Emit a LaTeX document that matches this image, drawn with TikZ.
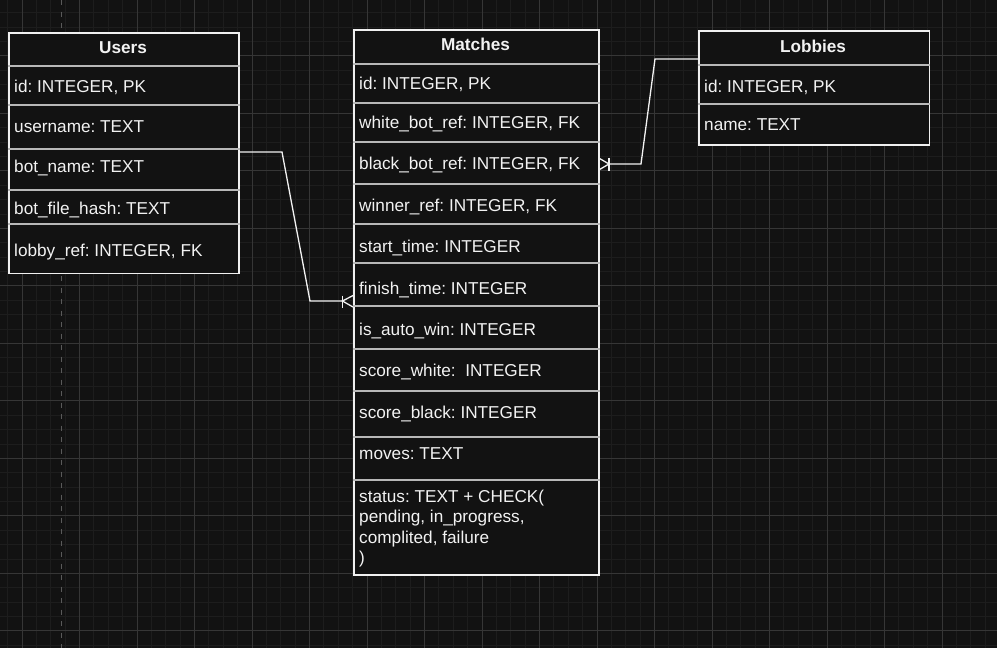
\documentclass[tikz,border=0pt]{standalone}
\usepackage{fontspec}
\setmainfont{Liberation Sans}
\frenchspacing
\definecolor{canvas}{HTML}{121212}
\definecolor{minorline}{HTML}{1D1D1D}
\definecolor{majorline}{HTML}{363636}
\definecolor{pagebreak}{HTML}{5A5A5A}
\definecolor{boxline}{HTML}{F0F0F0}
\definecolor{rowline}{HTML}{B8B8B8}
\definecolor{ink}{HTML}{F2F2F2}

\begin{document}
\begin{tikzpicture}[x=1pt, y=-1pt,
    table/.style = {draw=boxline, line width=1.6pt, fill=canvas, rectangle, anchor=north west, inner sep=0pt},
    head/.style = {text=ink, inner sep=0pt, text height=12.3pt, text depth=0pt, font=\fontsize{17.2}{20.4}\selectfont\bfseries},
    field/.style = {text=ink, anchor=west, inner sep=0pt, text height=12.3pt, text depth=0pt, font=\fontsize{17.2}{20.4}\selectfont},
    note/.style = {text=ink, anchor=base west, inner sep=0pt, align=left, font=\fontsize{17.2}{20.4}\selectfont},
    row/.style = {draw=rowline, line width=1.3pt},
    rel/.style = {draw=ink, line width=1.3pt}
    ]
% canvas and grid
\fill[canvas] (0,0) rectangle (997,648);
\useasboundingbox (0,0) rectangle (997,648);
\begin{scope}
\clip (0,0) rectangle (997,648);
\foreach \k in {0,...,69} \draw[minorline, line width=0.8pt] (7.625+14.375*\k,0) -- (7.625+14.375*\k,648);
\foreach \k in {0,...,44} \draw[minorline, line width=0.8pt] (0,12.675+14.375*\k) -- (997,12.675+14.375*\k);
\foreach \k in {0,...,17} \draw[majorline, line width=0.9pt] (22+57.5*\k,0) -- (22+57.5*\k,648);
\foreach \k in {-1,...,10} \draw[majorline, line width=0.9pt] (0,55.8+57.5*\k) -- (997,55.8+57.5*\k);
\draw[pagebreak, line width=1pt, dash pattern=on 5pt off 6.5pt] (61,0) -- (61,648);
\end{scope}

% Users
\node[table, minimum width=230pt, minimum height=240.5pt] (users) at (8,32) {};
\draw[row] (users.west |- 0,66) -- (users.east |- 0,66);
\draw[row] (users.west |- 0,105) -- (users.east |- 0,105);
\draw[row] (users.west |- 0,149) -- (users.east |- 0,149);
\draw[row] (users.west |- 0,190) -- (users.east |- 0,190);
\draw[row] (users.west |- 0,224) -- (users.east |- 0,224);
\node[head] (usershead) at (123,47.3) {Users};
\node[field] (u1) at (14,86.5) {id: INTEGER, PK};
\node[field] (u2) at (14,126) {username: TEXT};
\node[field] (u3) at (14,166.7) {bot\_name: TEXT};
\node[field] (u4) at (14,208) {bot\_file\_hash: TEXT};
\node[field] (u5) at (14,250) {lobby\_ref: INTEGER, FK};

% Matches
\node[table, minimum width=245pt, minimum height=545pt] (matches) at (353,29.3) {};
\draw[row] (matches.west |- 0,64) -- (matches.east |- 0,64);
\draw[row] (matches.west |- 0,103) -- (matches.east |- 0,103);
\draw[row] (matches.west |- 0,142) -- (matches.east |- 0,142);
\draw[row] (matches.west |- 0,184) -- (matches.east |- 0,184);
\draw[row] (matches.west |- 0,224) -- (matches.east |- 0,224);
\draw[row] (matches.west |- 0,263) -- (matches.east |- 0,263);
\draw[row] (matches.west |- 0,306) -- (matches.east |- 0,306);
\draw[row] (matches.west |- 0,349) -- (matches.east |- 0,349);
\draw[row] (matches.west |- 0,391) -- (matches.east |- 0,391);
\draw[row] (matches.west |- 0,437) -- (matches.east |- 0,437);
\draw[row] (matches.west |- 0,480) -- (matches.east |- 0,480);
\node[head] (matcheshead) at (475.5,44) {Matches};
\node[field] (m1) at (359,83.3) {id: INTEGER, PK};
\node[field] (m2) at (359,122.7) {white\_bot\_ref: INTEGER, FK};
\node[field] (m3) at (359,163.3) {black\_bot\_ref: INTEGER, FK};
\node[field] (m4) at (359,205) {winner\_ref: INTEGER, FK};
\node[field] (m5) at (359,246.7) {start\_time: INTEGER};
\node[field] (m6) at (359,288) {finish\_time: INTEGER};
\node[field] (m7) at (359,329.3) {is\_auto\_win: INTEGER};
\node[field] (m8) at (359,370) {score\_white: \ INTEGER};
\node[field] (m9) at (359,412.3) {score\_black: INTEGER};
\node[field] (m10) at (359,453.3) {moves: TEXT};
\node[note] (m11) at (359,563.4) {status: TEXT + CHECK(\\pending, in\_progress,\\complited, failure\\)};

% Lobbies
\node[table, minimum width=230.5pt, minimum height=114pt] (lobbies) at (698,30) {};
\draw[row] (lobbies.west |- 0,65) -- (lobbies.east |- 0,65);
\draw[row] (lobbies.west |- 0,104) -- (lobbies.east |- 0,104);
\node[head] (lobbieshead) at (813,46.7) {Lobbies};
\node[field] (l1) at (704,86) {id: INTEGER, PK};
\node[field] (l2) at (704,124.3) {name: TEXT};

% relations
\coordinate (k1) at (282,152);
\coordinate (k2) at (310,301);
\coordinate (k3) at (342.5,301);
\draw[rel] (users.east |- k1) -- (k1) -- (k2) -- (k3);
\draw[rel] (k3 |- 0,295.5) -- (k3 |- 0,307.5);
\draw[rel] (matches.west |- 0,295.5) -- (k3) -- (matches.west |- 0,307);

\coordinate (k4) at (655,59);
\coordinate (k5) at (641,164);
\coordinate (k6) at (609,164);
\draw[rel] (lobbies.west |- k4) -- (k4) -- (k5) -- (k6);
\draw[rel] (k6 |- 0,157.5) -- (k6 |- 0,170.5);
\draw[rel] (matches.east |- 0,158.5) -- (k6) -- (matches.east |- 0,169.5);

\end{tikzpicture}
\end{document}
